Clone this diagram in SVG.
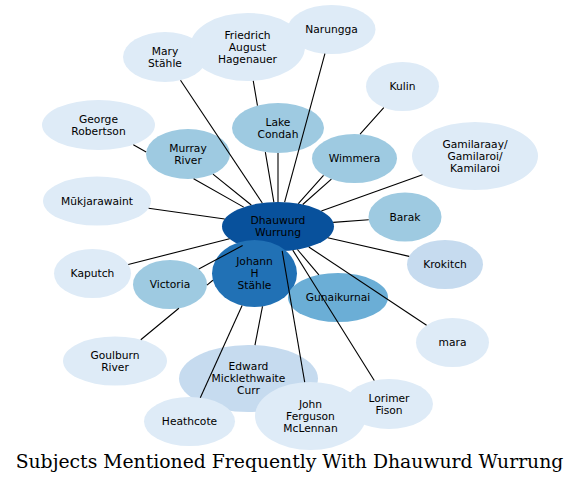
<svg xmlns="http://www.w3.org/2000/svg" width="580" height="485" viewBox="0 0 580 485">
<style>
  .n text { font-family: "DejaVu Sans", Verdana, sans-serif; font-size: 10.7px; fill: #000; text-anchor: middle; }
  .c1 { fill: #deebf7; }
  .c2 { fill: #c6dbef; }
  .c3 { fill: #9ecae1; }
  .c4 { fill: #6baed6; }
  .c5 { fill: #2171b5; }
  .c6 { fill: #08519c; }
  #connectors path { fill: none; stroke: #000; stroke-width: 1.1; }
  .title { font-family: "DejaVu Serif", serif; font-size: 18.8px; fill: #000; text-anchor: middle; }
</style>
<rect width="580" height="485" fill="#fff"/>
<g id="nodes">
  <g id="n-dhauwurd" class="n"><ellipse class="c6" cx="278" cy="226.5" rx="56" ry="24.5"/><text x="278" y="224.2"><tspan x="278">Dhauwurd</tspan><tspan x="278" dy="12">Wurrung</tspan></text></g>
  <g id="n-johann" class="n"><ellipse class="c5" cx="254.5" cy="273.5" rx="42.5" ry="33.5"/><text x="254.5" y="265"><tspan x="254.5">Johann</tspan><tspan x="254.5" dy="12">H</tspan><tspan x="254.5" dy="12">Stähle</tspan></text></g>
  <g id="n-gunaikurnai" class="n"><ellipse class="c4" cx="338" cy="297.5" rx="50" ry="24.5"/><text x="338" y="301.2">Gunaikurnai</text></g>
  <g id="n-lakecondah" class="n"><ellipse class="c3" cx="278" cy="128" rx="46" ry="25"/><text x="278" y="125.7"><tspan x="278">Lake</tspan><tspan x="278" dy="12">Condah</tspan></text></g>
  <g id="n-murray" class="n"><ellipse class="c3" cx="188" cy="154" rx="42" ry="25"/><text x="188" y="151.7"><tspan x="188">Murray</tspan><tspan x="188" dy="12">River</tspan></text></g>
  <g id="n-wimmera" class="n"><ellipse class="c3" cx="354.5" cy="158.5" rx="42.5" ry="24.5"/><text x="354.5" y="162.2">Wimmera</text></g>
  <g id="n-barak" class="n"><ellipse class="c3" cx="405" cy="217" rx="36.5" ry="24.5"/><text x="405" y="220.7">Barak</text></g>
  <g id="n-victoria" class="n"><ellipse class="c3" cx="170" cy="284.5" rx="37" ry="24.5"/><text x="170" y="288.2">Victoria</text></g>
  <g id="n-mary" class="n"><ellipse class="c1" cx="165" cy="57" rx="42" ry="25"/><text x="165" y="54.7"><tspan x="165">Mary</tspan><tspan x="165" dy="12">Stähle</tspan></text></g>
  <g id="n-friedrich" class="n"><ellipse class="c1" cx="247.5" cy="47" rx="57.5" ry="34"/><text x="247.5" y="38.5"><tspan x="247.5">Friedrich</tspan><tspan x="247.5" dy="12">August</tspan><tspan x="247.5" dy="12">Hagenauer</tspan></text></g>
  <g id="n-narungga" class="n"><ellipse class="c1" cx="331.5" cy="29.5" rx="44" ry="24.5"/><text x="331.5" y="33.2">Narungga</text></g>
  <g id="n-kulin" class="n"><ellipse class="c1" cx="402.5" cy="86.5" rx="36.5" ry="24.5"/><text x="402.5" y="90.2">Kulin</text></g>
  <g id="n-gamilaraay" class="n"><ellipse class="c1" cx="475" cy="156" rx="63" ry="34"/><text x="475" y="147.5"><tspan x="475">Gamilaraay/</tspan><tspan x="475" dy="12">Gamilaroi/</tspan><tspan x="475" dy="12">Kamilaroi</tspan></text></g>
  <g id="n-george" class="n"><ellipse class="c1" cx="98.5" cy="125" rx="56.5" ry="25"/><text x="98.5" y="122.7"><tspan x="98.5">George</tspan><tspan x="98.5" dy="12">Robertson</tspan></text></g>
  <g id="n-mukjarawaint" class="n"><ellipse class="c1" cx="97" cy="201" rx="54" ry="24.5"/><text x="97" y="204.7">Mūkjarawaint</text></g>
  <g id="n-kaputch" class="n"><ellipse class="c1" cx="92.5" cy="273.5" rx="38.5" ry="24.5"/><text x="92.5" y="277.2">Kaputch</text></g>
  <g id="n-goulburn" class="n"><ellipse class="c1" cx="115" cy="361" rx="52" ry="24.5"/><text x="115" y="358.7"><tspan x="115">Goulburn</tspan><tspan x="115" dy="12">River</tspan></text></g>
  <g id="n-edward" class="n"><ellipse class="c2" cx="248.5" cy="378.5" rx="69.5" ry="33.5"/><text x="248.5" y="370"><tspan x="248.5">Edward</tspan><tspan x="248.5" dy="12">Micklethwaite</tspan><tspan x="248.5" dy="12">Curr</tspan></text></g>
  <g id="n-heathcote" class="n"><ellipse class="c1" cx="189.5" cy="421.5" rx="45.5" ry="24.5"/><text x="189.5" y="425.2">Heathcote</text></g>
  <g id="n-john" class="n"><ellipse class="c1" cx="310.5" cy="416" rx="55.5" ry="34"/><text x="310.5" y="407.5"><tspan x="310.5">John</tspan><tspan x="310.5" dy="12">Ferguson</tspan><tspan x="310.5" dy="12">McLennan</tspan></text></g>
  <g id="n-lorimer" class="n"><ellipse class="c1" cx="389" cy="404" rx="44" ry="25"/><text x="389" y="401.7"><tspan x="389">Lorimer</tspan><tspan x="389" dy="12">Fison</tspan></text></g>
  <g id="n-mara" class="n"><ellipse class="c1" cx="452.5" cy="342.5" rx="36.5" ry="24.5"/><text x="452.5" y="346.2">mara</text></g>
  <g id="n-krokitch" class="n"><ellipse class="c2" cx="445" cy="264.5" rx="38" ry="24.5"/><text x="445" y="268.2">Krokitch</text></g>
</g>
<g id="connectors">
  <path id="e-mary" d="M262.3,203.0 L180.5,80.2"/>
  <path id="e-friedrich" d="M273.85,202.07 L265.35,152.04 M257.46,105.62 L253.25,80.83"/>
  <path id="e-narungga" d="M284.61,202.17 L324.92,53.72"/>
  <path id="e-lakecondah" d="M278,202 L278,153"/>
  <path id="e-kulin" d="M298.31,203.66 L323.54,175.29 M360.07,134.21 L383.79,107.54"/>
  <path id="e-wimmera" d="M302.73,204.52 L331.37,179.06"/>
  <path id="e-gamilaraay" d="M321.35,210.99 L422.5,174.79"/>
  <path id="e-barak" d="M333.2,222.37 L368.73,219.71"/>
  <path id="e-krokitch" d="M327.68,237.81 L409.16,256.35"/>
  <path id="e-mara" d="M308.79,246.97 L426.56,325.26"/>
  <path id="e-lorimer" d="M292.78,250.13 L374.27,380.44"/>
  <path id="e-john" d="M282.19,250.93 L304.7,382.19"/>
  <path id="e-gunaikurnai" d="M297.42,249.48 L318.87,274.87"/>
  <path id="e-edward" d="M262.49,306.41 L254.97,345.15"/>
  <path id="e-heathcote" d="M242.12,305.55 L200.3,397.7"/>
  <path id="e-goulburn" d="M212.87,280.24 L206.99,285.09 M178.89,308.28 L140.79,339.72"/>
  <path id="e-victoria" d="M242.62,245.5 L198.74,269.07"/>
  <path id="e-kaputch" d="M229.54,238.78 L128.27,264.44"/>
  <path id="e-mukjarawaint" d="M224.7,218.99 L148.57,208.27"/>
  <path id="e-george" d="M243.73,207.12 L193.6,178.78 M146.14,151.94 L133.32,144.69"/>
  <path id="e-murray" d="M251.27,204.97 L212.96,174.1"/>
</g>
<text class="title" x="289.5" y="468">Subjects Mentioned Frequently With Dhauwurd Wurrung</text>
</svg>
